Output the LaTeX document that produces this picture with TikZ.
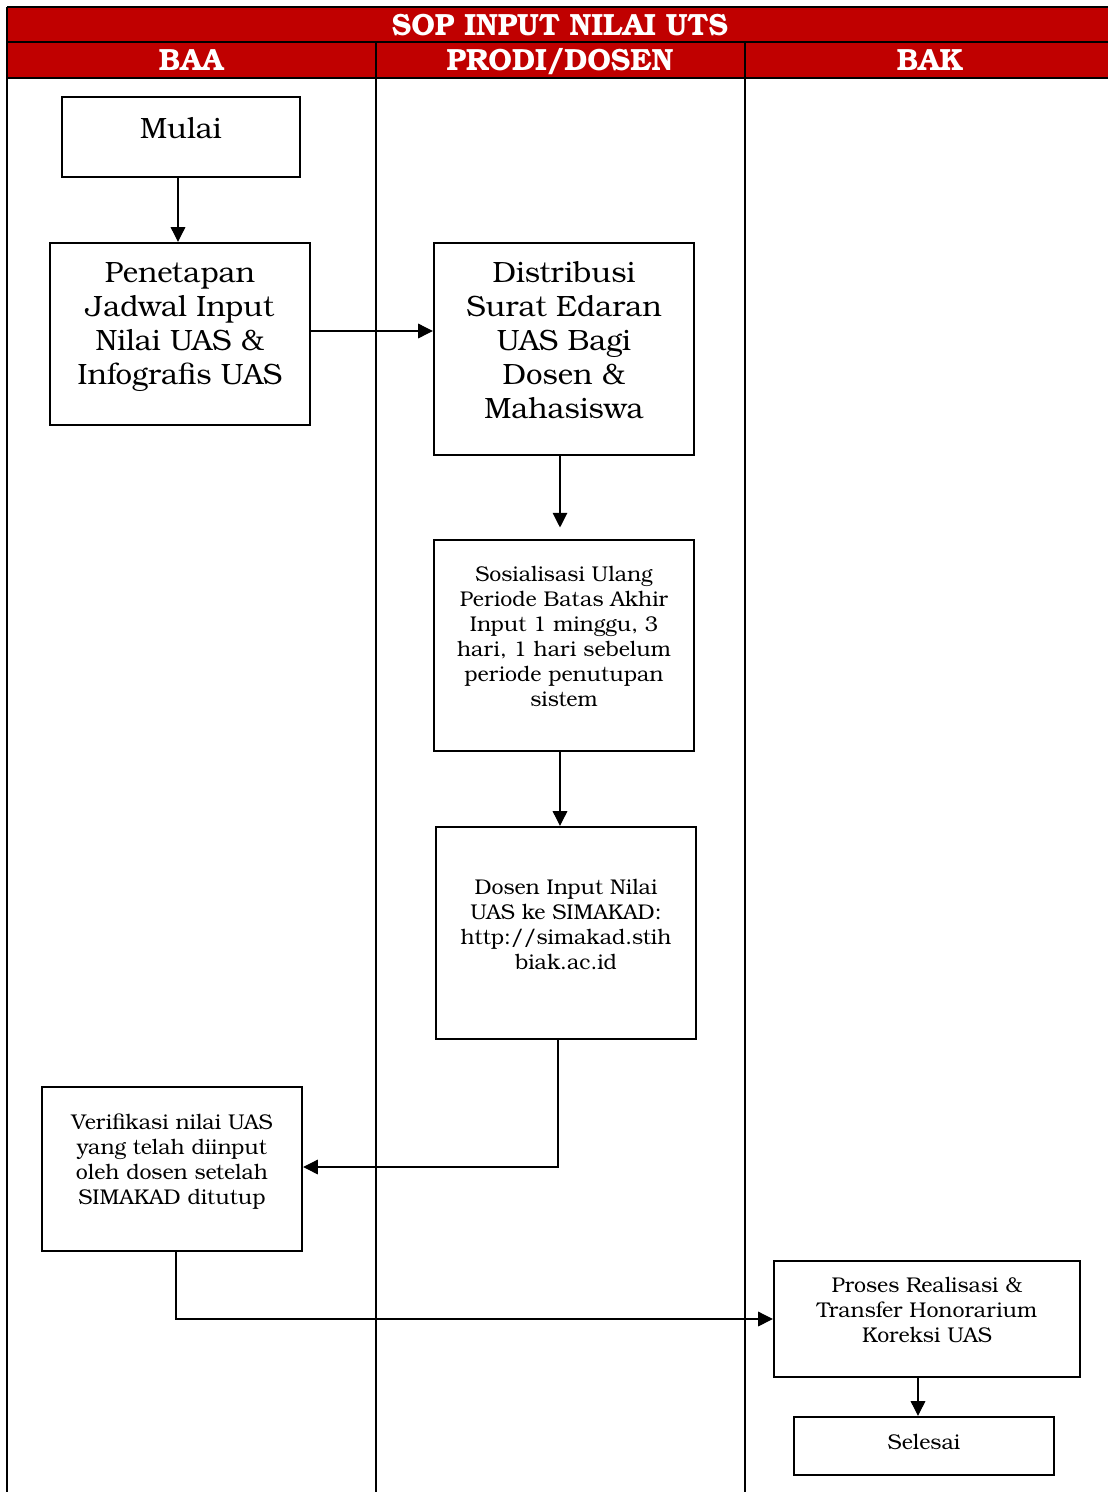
\documentclass[tikz,border=0pt]{standalone}
\usepackage{fontspec}
\setmainfont{TeX Gyre Bonum}
\usetikzlibrary{arrows.meta}
\definecolor{sopred}{HTML}{C00000}
\tikzset{
  box/.style={draw, line width=1.8pt, inner sep=0pt},
  big/.style={align=center, inner sep=0pt, font=\fontsize{22}{25.5}\selectfont},
  small/.style={align=center, inner sep=0pt, font=\fontsize{16}{18.75}\selectfont},
  head/.style={text=white, inner sep=0pt, anchor=base, font=\fontsize{23}{23}\selectfont\bfseries},
  lane/.style={line width=1.3pt},
  arr/.style={line width=0.8pt, -{Triangle[length=11pt,width=11pt]}},
}
\newcommand{\hd}[1]{\scalebox{0.96}[1]{#1}}
\begin{document}
\begin{tikzpicture}[x=0.75pt,y=-0.75pt]
\useasboundingbox (0,0) rectangle (1108,1492);
% header
\fill[sopred] (7,7) rectangle (1108,78);
\draw[line width=1.3pt] (7,7) -- (1108,7);
\draw[line width=1pt] (7,42) -- (1108,42);
\draw[lane] (7,78) -- (1108,78);
\draw[lane] (7,7) -- (7,1492);
\draw[lane] (376,42) -- (376,1492);
\draw[lane] (745,42) -- (745,1492);
\node[head] (title) at (560,35) {\hd{SOP INPUT NILAI UTS}};
\node[head] (baa) at (191,70) {\hd{BAA}};
\node[head] (prodi) at (560,70) {\hd{PRODI/DOSEN}};
\node[head] (bak) at (930,70) {\hd{BAK}};
% boxes
\node[box, minimum width=178.5pt, minimum height=60pt] (mulai) at (181,137) {};
\node[big] (tmulai) at ([yshift=7pt]mulai.center) {Mulai};
\node[box, minimum width=195pt, minimum height=136.5pt] (pen) at (180,334) {};
\node[big] (tpen) at ([yshift=5.5pt]pen.center) {Penetapan\\Jadwal Input\\Nilai UAS \&\\Infografis UAS};
\node[box, minimum width=195pt, minimum height=159pt] (dist) at (564,349) {};
\node[big] (tdist) at ([yshift=6.5pt]dist.center) {Distribusi\\Surat Edaran\\UAS Bagi\\Dosen \&\\Mahasiswa};
\node[box, minimum width=195pt, minimum height=158.25pt] (sos) at (564,645.5) {};
\node[small] (tsos) at ([yshift=6.75pt]sos.center) {Sosialisasi Ulang\\Periode Batas Akhir\\Input 1 minggu, 3\\hari, 1 hari sebelum\\periode penutupan\\sistem};
\node[box, minimum width=195pt, minimum height=159pt] (dos) at (566,933) {};
\node[small] (tdos) at ([yshift=6.75pt]dos.center) {Dosen Input Nilai\\UAS ke SIMAKAD:\\http://simakad.stih\\biak.ac.id};
\node[box, minimum width=195pt, minimum height=123pt] (ver) at (172,1169) {};
\node[small] (tver) at ([yshift=5.5pt]ver.center) {Verifikasi nilai UAS\\yang telah diinput\\oleh dosen setelah\\SIMAKAD ditutup};
\node[box, minimum width=229.5pt, minimum height=87pt] (pro) at (927,1319) {};
\node[small] (tpro) at ([yshift=6.75pt]pro.center) {Proses Realisasi \&\\Transfer Honorarium\\Koreksi UAS};
\node[box, minimum width=195pt, minimum height=43.5pt] (sel) at (924,1446) {};
\node[small] (tsel) at ([yshift=3pt]sel.center) {Selesai};
% connectors
\draw[arr] ([xshift=-2.25pt]mulai.south) -- ([xshift=-2.25pt]mulai.south |- pen.north);
\draw[arr] ([yshift=2.25pt]pen.east) -- ([yshift=2.25pt]pen.east -| dist.west);
\draw[arr, shorten >=8.5pt] ([xshift=-3pt]dist.south) -- ([xshift=-3pt]dist.south |- sos.north);
\draw[arr] ([xshift=-3pt]sos.south) -- ([xshift=-3pt]sos.south |- dos.north);
\draw[arr] ([xshift=-6pt]dos.south) |- ([yshift=1.5pt]ver.east);
\draw[arr] ([xshift=3pt]ver.south) |- (pro.west);
\draw[arr] ([xshift=-6.75pt]pro.south) -- ([xshift=-6.75pt]pro.south |- sel.north);
\end{tikzpicture}
\end{document}
